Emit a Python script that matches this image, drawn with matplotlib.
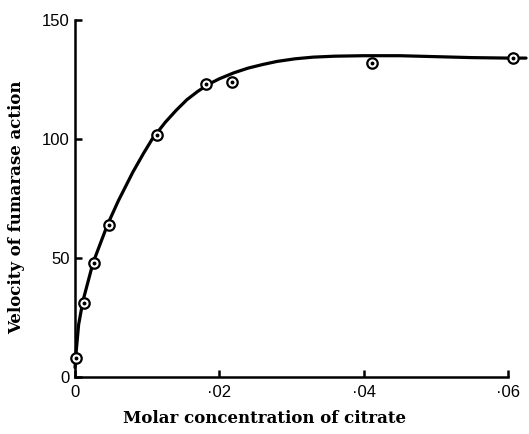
import matplotlib
matplotlib.use("Agg")
import matplotlib.pyplot as plt

# measured points (molar citrate, velocity)
conc = [0.0001, 0.0012, 0.0027, 0.0047, 0.0114, 0.0181, 0.0217, 0.0411, 0.0607]
velocity = [8, 31, 48, 64, 101.5, 123, 124, 132, 134]

# hand-drawn curve
curve_x = [0.0, 0.0002, 0.0005, 0.0011, 0.0018, 0.0025, 0.0035, 0.0045, 0.006,
           0.008, 0.0095, 0.0107, 0.0125, 0.014, 0.0155, 0.017, 0.0185, 0.020,
           0.022, 0.024, 0.026, 0.028, 0.0305, 0.033, 0.036, 0.040, 0.045,
           0.050, 0.055, 0.060, 0.0625]
curve_y = [4, 12, 22, 32, 40, 48, 56, 64, 74,
           86, 94, 100, 107, 112, 116.5, 120, 123, 125.3,
           127.8, 129.8, 131.3, 132.6, 133.7, 134.4, 134.8, 135, 135,
           134.6, 134.2, 134, 134]

xticks = [0, 0.02, 0.04, 0.06]
xticklabels = ["0", "\u00b702", "\u00b704", "\u00b706"]
yticks = [0, 50, 100, 150]
yticklabels = ["0", "50", "100", "150"]

fig = plt.figure(figsize=(5.29, 4.34), dpi=100)
ax = fig.add_axes([0.1418, 0.1313, 0.8185, 0.8226])

ax.plot(curve_x, curve_y, color="black", lw=2.3, clip_on=False, zorder=2,
        solid_capstyle="round", solid_joinstyle="round")
ax.plot(conc, velocity, "o", ms=7.5, mfc="white", mec="black", mew=1.6,
        clip_on=False, zorder=3)
ax.plot(conc, velocity, "o", ms=1.8, color="black", clip_on=False, zorder=4)

ax.set_xlim(0, 0.06)
ax.set_ylim(0, 150)
ax.set_xticks(xticks)
ax.set_xticklabels(xticklabels)
ax.set_yticks(yticks)
ax.set_yticklabels(yticklabels)

for s in ["top", "right"]:
    ax.spines[s].set_visible(False)
for s in ["left", "bottom"]:
    ax.spines[s].set_linewidth(1.8)

ax.tick_params(direction="in", length=5, width=1.8, labelsize=12)
ax.tick_params(axis="x", pad=6)
ax.tick_params(axis="y", pad=4)
for lab in ax.get_xticklabels() + ax.get_yticklabels():
    lab.set_family("Liberation Sans")

fig.text(0.5, 0.016, "Molar concentration of citrate", ha="center", va="bottom",
         family="DejaVu Serif", fontsize=12, weight="bold")
fig.text(0.032, 0.523, "Velocity of fumarase action", ha="center", va="center",
         rotation=90, family="DejaVu Serif", fontsize=12, weight="bold")

fig.savefig("out.png", dpi=100)
